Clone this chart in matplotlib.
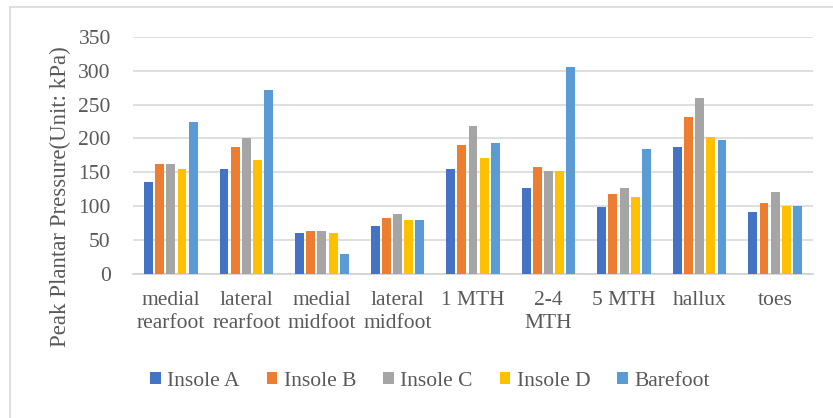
import matplotlib
matplotlib.use("Agg")
import matplotlib.pyplot as plt
import numpy as np
from matplotlib.lines import Line2D

categories = ["medial\nrearfoot", "lateral\nrearfoot", "medial\nmidfoot", "lateral\nmidfoot",
              "1 MTH", "2-4\nMTH", "5 MTH", "hallux", "toes"]
insole_a = [136, 155, 61, 71, 155, 127, 99, 187, 92]
insole_b = [162, 187, 64, 83, 190, 158, 118, 231, 105]
insole_c = [162, 200, 64, 89, 218, 152, 127, 259, 121]
insole_d = [155, 168, 61, 80, 171, 152, 114, 202, 101]
barefoot = [224, 272, 29, 80, 193, 306, 184, 197, 101]
series_names = ["Insole A", "Insole B", "Insole C", "Insole D", "Barefoot"]
series = [insole_a, insole_b, insole_c, insole_d, barefoot]
colors = ["#4472C4", "#ED7D31", "#A5A5A5", "#FFC000", "#5B9BD5"]
yticks = [0, 50, 100, 150, 200, 250, 300, 350]

plt.rcParams['font.family'] = ['Liberation Serif', 'DejaVu Serif']
text_color = "#595959"
fs = 15.5

fig = plt.figure(figsize=(8.33, 4.18), dpi=100)
ax = fig.add_axes([133/833, 1-274/418, 680/833, (274-36.7)/418])

x = np.arange(len(categories))
slot = 0.148
bw = 0.118
for i, (name, vals, c) in enumerate(zip(series_names, series, colors)):
    ax.bar(x + (i - 2) * slot, vals, width=bw, color=c, label=name, zorder=3)

ax.set_xlim(-0.5, len(categories) - 0.5)
ax.set_ylim(0, 350)
ax.set_yticks(yticks)
ax.set_yticklabels([str(v) for v in yticks], fontsize=fs, color=text_color)
ax.set_xticks(x)
ax.set_xticklabels(categories, fontsize=fs, color=text_color, linespacing=1.3)
ax.tick_params(axis='both', length=0)
ax.tick_params(axis='y', pad=16)
ax.tick_params(axis='x', pad=12)
ax.grid(axis='y', color="#D9D9D9", linewidth=1.2, zorder=0)
for s in ["top", "right", "left"]:
    ax.spines[s].set_visible(False)
ax.spines["bottom"].set_color("#D0D0D0")
ax.spines["bottom"].set_linewidth(1.2)

fig.text(60/833, 1-197/418, "Peak Plantar Pressure(Unit: kPa)", rotation=90,
         ha='center', va='center', fontsize=16.5, color=text_color)

leg = fig.legend(loc='center', bbox_to_anchor=(430/833, 1-381/418), ncol=5, frameon=False,
                 fontsize=fs, handlelength=0.5, handleheight=0.5, handletextpad=0.3,
                 columnspacing=1.25)
for t in leg.get_texts():
    t.set_fontfamily(['Liberation Serif'])
    t.set_color(text_color)

# outer chart border (left and top)
fig.add_artist(Line2D([10/833, 10/833], [0, 1-7/418], transform=fig.transFigure,
                      color="#D9D9D9", linewidth=1.2))
fig.add_artist(Line2D([10/833, 1], [1-7/418, 1-7/418], transform=fig.transFigure,
                      color="#D9D9D9", linewidth=1.2))

fig.savefig("out.png", dpi=100)
